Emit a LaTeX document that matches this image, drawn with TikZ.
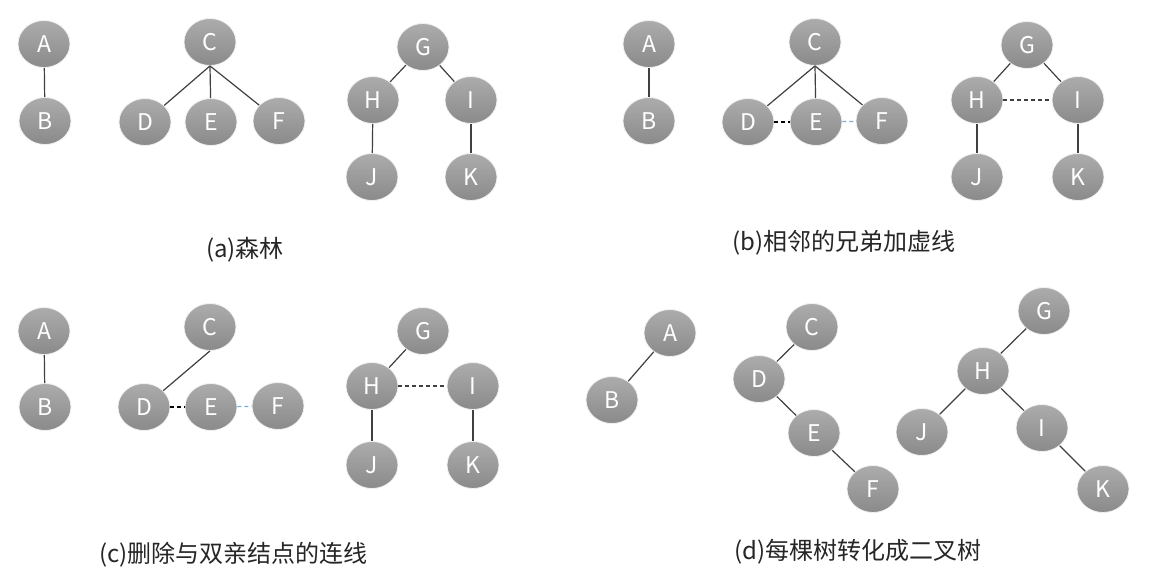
\documentclass[tikz,border=0pt]{standalone}
\usepackage{fontspec}
\setmainfont{Noto Sans CJK SC}
\usetikzlibrary{shapes.geometric}
\definecolor{ntop}{RGB}{172,172,172}
\definecolor{nbot}{RGB}{138,138,138}
\definecolor{edgec}{RGB}{64,64,64}
\definecolor{bluedash}{RGB}{120,170,220}
\tikzset{
  tn/.style={ellipse, minimum width=52, minimum height=47, inner sep=0pt,
    top color=ntop, bottom color=nbot, draw=white!90!gray, line width=0.8pt,
    text=white, font=\fontsize{23}{23}\selectfont},
  ed/.style={draw=edgec, line width=1.2pt},
  bd/.style={draw=black, line width=1.2pt, dash pattern=on 4pt off 3pt},
  ld/.style={draw=bluedash, line width=1.2pt, dash pattern=on 4pt off 3pt},
  gd/.style={draw=edgec, line width=1.2pt, dash pattern=on 4pt off 3pt},
  captxt/.style={anchor=west, inner sep=0pt, font=\fontsize{24}{24}\selectfont, text=black!85}
}
\begin{document}
\begin{tikzpicture}[x=1pt, y=-1pt]
\useasboundingbox (0,0) rectangle (1153,585);
\fill[white] (0,0) rectangle (1153,585);
% (a)
\node[tn] (aA) at (44,44) {A};
\node[tn] (aB) at (45,121) {B};
\node[tn] (aC) at (210,42) {C};
\node[tn] (aD) at (145,122) {D};
\node[tn] (aE) at (211,122) {E};
\node[tn] (aF) at (279,121) {F};
\node[tn] (aG) at (423,47) {G};
\node[tn] (aH) at (373,100) {H};
\node[tn] (aI) at (471,100) {I};
\node[tn] (aJ) at (372,177) {J};
\node[tn] (aK) at (471,177) {K};
\draw[ed] (aA) -- (aB);
\draw[ed] (aC.south) -- (aD);
\draw[ed] (aC.south) -- (aE);
\draw[ed] (aC.south) -- (aF);
\draw[ed] (aG) -- (aH);
\draw[ed] (aG) -- (aI);
\draw[ed] (aH) -- (aJ);
\draw[ed] (aI) -- (aK);
\node[captxt] (capa) at (206,250) {(a)森林};
% (b)
\node[tn] (bA) at (649,44) {A};
\node[tn] (bB) at (649,121) {B};
\node[tn] (bC) at (815,42) {C};
\node[tn] (bD) at (748,122) {D};
\node[tn] (bE) at (816,122) {E};
\node[tn] (bF) at (882,121) {F};
\node[tn] (bG) at (1027,45) {G};
\node[tn] (bH) at (977,100) {H};
\node[tn] (bI) at (1078,100) {I};
\node[tn] (bJ) at (977,177) {J};
\node[tn] (bK) at (1078,177) {K};
\draw[ed] (bA) -- (bB);
\draw[ed] (bC.south) -- (bD);
\draw[ed] (bC.south) -- (bE);
\draw[ed] (bC.south) -- (bF);
\draw[bd] (bD) -- (bE);
\draw[ld] (bE) -- (bF);
\draw[ed] (bG) -- (bH);
\draw[ed] (bG) -- (bI);
\draw[gd] (bH) -- (bI);
\draw[ed] (bH) -- (bJ);
\draw[ed] (bI) -- (bK);
\node[captxt] (capb) at (732,243) {(b)相邻的兄弟加虚线};
% (c)
\node[tn] (cA) at (44,331) {A};
\node[tn] (cB) at (45,407) {B};
\node[tn] (cC) at (210,327) {C};
\node[tn] (cD) at (144,407) {D};
\node[tn] (cE) at (211,407) {E};
\node[tn] (cF) at (278,406) {F};
\node[tn] (cG) at (423,331) {G};
\node[tn] (cH) at (372,386) {H};
\node[tn] (cI) at (473,386) {I};
\node[tn] (cJ) at (372,465) {J};
\node[tn] (cK) at (473,465) {K};
\draw[ed] (cA) -- (cB);
\draw[ed] (cC.south) -- (cD);
\draw[bd] (cD) -- (cE);
\draw[ld] (cE) -- (cF);
\draw[ed] (cG) -- (cH);
\draw[gd] (cH) -- (cI);
\draw[ed] (cH) -- (cJ);
\draw[ed] (cI) -- (cK);
\node[captxt] (capc) at (99,555) {(c)删除与双亲结点的连线};
% (d)
\node[tn] (dA) at (670,333) {A};
\node[tn] (dB) at (612,400) {B};
\node[tn] (dC) at (812,327) {C};
\node[tn] (dD) at (759,379) {D};
\node[tn] (dE) at (814,433) {E};
\node[tn] (dF) at (873,489) {F};
\node[tn] (dG) at (1044,311) {G};
\node[tn] (dH) at (983,371) {H};
\node[tn] (dJ) at (922,432) {J};
\node[tn] (dI) at (1042,428) {I};
\node[tn] (dK) at (1103,489) {K};
\draw[ed] (dA) -- (dB);
\draw[ed] (dC) -- (dD);
\draw[ed] (dD) -- (dE);
\draw[ed] (dE) -- (dF);
\draw[ed] (dG) -- (dH);
\draw[ed] (dH) -- (dJ);
\draw[ed] (dH) -- (dI);
\draw[ed] (dI) -- (dK);
\node[captxt] (capd) at (734,552) {(d)每棵树转化成二叉树};
\end{tikzpicture}
\end{document}
